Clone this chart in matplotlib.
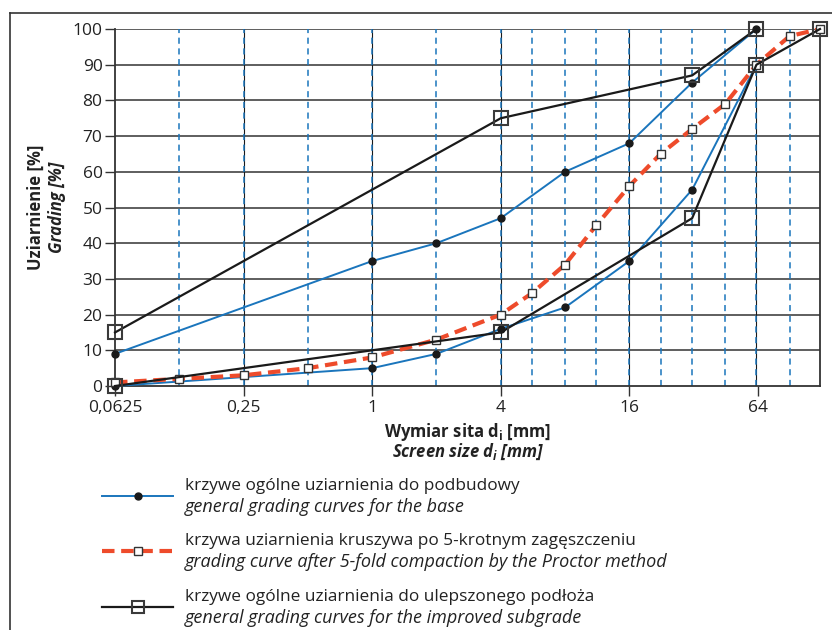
import matplotlib
matplotlib.use("Agg")
import matplotlib.pyplot as plt
from matplotlib.lines import Line2D
from matplotlib.ticker import NullLocator

plt.rcParams['font.family'] = ['Open Sans', 'DejaVu Sans']

# sieve sizes [mm] (vertical grid)
sieves = [0.0625, 0.125, 0.25, 0.5, 1, 2, 4, 5.6, 8, 11.2, 16, 22.4, 31.5, 45, 63, 90, 125]
major_sieves = [0.25, 1, 4, 16, 63]
x_ticks = [0.0625, 0.25, 1, 4, 16, 64]
x_tick_labels = ['0,0625', '0,25', '1', '4', '16', '64']
y_ticks = [0, 10, 20, 30, 40, 50, 60, 70, 80, 90, 100]

# general grading curves for the base (upper / lower limit)
base_upper_x = [0.0625, 1, 2, 4, 8, 16, 31.5, 63]
base_upper_y = [9, 35, 40, 47, 60, 68, 85, 100]
base_lower_x = [0.0625, 1, 2, 4, 8, 16, 31.5, 63]
base_lower_y = [0, 5, 9, 16, 22, 35, 55, 90]

# grading curve after 5-fold Proctor compaction
proctor_x = [0.0625, 0.125, 0.25, 0.5, 1, 2, 4, 5.6, 8, 11.2, 16, 22.4, 31.5, 45, 63, 90, 125]
proctor_y = [1, 2, 3, 5, 8, 13, 20, 26, 34, 45, 56, 65, 72, 79, 90, 98, 100]

# general grading curves for the improved subgrade
sub_upper_x = [0.0625, 4, 31.5, 63]
sub_upper_y = [15, 75, 87, 100]
sub_lower_x = [0.0625, 4, 31.5, 63, 125]
sub_lower_y = [0, 15, 47, 90, 100]

W, H = 832, 630
BLUE = '#1a75bc'
RED = '#ee4b2b'
BLACK = '#1a1a1a'
GRID = '#333333'

fig = plt.figure(figsize=(W / 100, H / 100), dpi=100)
ax = fig.add_axes([115 / W, 1 - 386 / H, (820 - 115) / W, (386 - 29) / H])

ax.set_xscale('log', base=2)
ax.set_xlim(0.0625, 125)
ax.set_ylim(0, 100)

# grid
for y in y_ticks[1:]:
    ax.axhline(y, color=GRID, lw=1.1, zorder=1)
for s in sieves[1:-1]:
    if s in major_sieves:
        ax.axvline(s, color=BLACK, lw=0.8, zorder=1)
    ax.axvline(s, color=BLUE, lw=1.1, ls=(0, (4, 3)), zorder=1.1)

base_style = dict(color=BLUE, lw=1.4, marker='o', ms=5, mfc=BLACK, mec=BLACK, zorder=3)
proctor_style = dict(color=RED, lw=3, ls=(0, (3, 1.6)), marker='s', ms=6,
                     mfc='white', mec='#333333', mew=1, zorder=4)
sub_style = dict(color=BLACK, lw=1.6, marker='s', ms=10, mfc='none', mec='#3a3a3a',
                 mew=1.5, zorder=5)

ax.plot(base_upper_x, base_upper_y, clip_on=False, **base_style)
ax.plot(base_lower_x, base_lower_y, clip_on=False, **base_style)
ax.plot(proctor_x, proctor_y, clip_on=False, **proctor_style)
ax.plot(sub_upper_x, sub_upper_y, clip_on=False, **sub_style)
ax.plot(sub_lower_x, sub_lower_y, clip_on=False, **sub_style)

ax.set_xticks(x_ticks)
ax.set_xticklabels(x_tick_labels)
ax.xaxis.set_minor_locator(NullLocator())
ax.set_yticks(y_ticks)
ax.tick_params(axis='both', direction='out', length=7, width=1, color=GRID,
               labelsize=12.5, labelcolor='#222222', pad=3)
ax.tick_params(axis='y', pad=2)

ax.spines['top'].set_visible(False)
for sp in ['left', 'bottom', 'right']:
    ax.spines[sp].set_color(GRID)
    ax.spines[sp].set_linewidth(1.3)
for sp in ax.spines.values():
    sp.set_zorder(2)


def fx(px):
    return px / W


def fy(py):
    return 1 - py / H


# axis titles
fig.text(fx(468), fy(432), r'Wymiar sita d$_\mathregular{i}$ [mm]', ha='center', va='center',
         fontsize=12, fontweight='bold', color='#222222')
fig.text(fx(468), fy(452), r'Screen size d$_\mathregular{i}$ [mm]', ha='center', va='center',
         fontsize=12, fontweight='bold', style='italic', color='#222222')
fig.text(fx(36), fy(207), 'Uziarnienie [%]', ha='center', va='center', rotation=90,
         fontsize=12, fontweight='bold', color='#222222')
fig.text(fx(57), fy(207), 'Grading [%]', ha='center', va='center', rotation=90,
         fontsize=12, fontweight='bold', style='italic', color='#222222')

# outer frame (left and top edges)
fig.add_artist(Line2D([fx(10), fx(10)], [0, fy(13)], transform=fig.transFigure, color=GRID, lw=1.2))
fig.add_artist(Line2D([fx(10), 1], [fy(13), fy(13)], transform=fig.transFigure, color=GRID, lw=1.2))

# legend
legend_items = [
    (496, base_style, 'krzywe ogólne uziarnienia do podbudowy',
     'general grading curves for the base'),
    (551, proctor_style, 'krzywa uziarnienia kruszywa po 5-krotnym zagęszczeniu',
     'grading curve after 5-fold compaction by the Proctor method'),
    (607, sub_style, 'krzywe ogólne uziarnienia do ulepszonego podłoża',
     'general grading curves for the improved subgrade'),
]
for yy, style, pl, en in legend_items:
    st = dict(style)
    st.pop('zorder')
    if st['marker'] == 's' and st['ms'] > 8:
        st['ms'] = 9
    fig.add_artist(Line2D([fx(102), fx(173)], [fy(yy), fy(yy)], transform=fig.transFigure,
                          markevery=[], **st))
    st2 = dict(st)
    st2['ls'] = 'none'
    fig.add_artist(Line2D([fx(137.5)], [fy(yy)], transform=fig.transFigure, **st2))
    fig.text(fx(185), fy(yy - 10), pl, ha='left', va='center', fontsize=12.4, color='#222222')
    fig.text(fx(185), fy(yy + 11), en, ha='left', va='center', fontsize=13, style='italic',
             color='#222222')

fig.savefig('out.png', dpi=100)
